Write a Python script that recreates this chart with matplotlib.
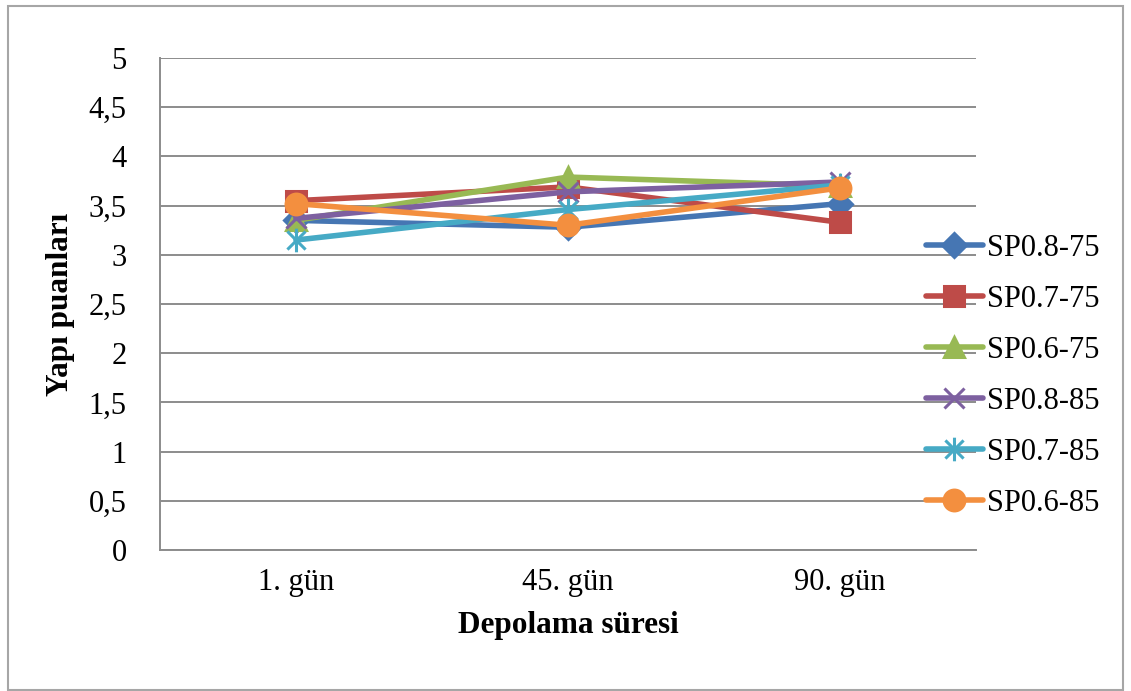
import matplotlib.pyplot as plt
import numpy as np
from matplotlib.path import Path
from matplotlib.patches import Rectangle

# Data
days = ['1. gün', '45. gün', '90. gün']
sp08_75 = [3.35, 3.28, 3.52]
sp07_75 = [3.55, 3.69, 3.33]
sp06_75 = [3.35, 3.79, 3.70]
sp08_85 = [3.37, 3.64, 3.74]
sp07_85 = [3.15, 3.46, 3.71]
sp06_85 = [3.52, 3.30, 3.68]
series_names = ['SP0.8-75', 'SP0.7-75', 'SP0.6-75', 'SP0.8-85', 'SP0.7-85', 'SP0.6-85']
y_ticks = [0, 0.5, 1, 1.5, 2, 2.5, 3, 3.5, 4, 4.5, 5]


def main():
    plt.rcParams['font.family'] = ['Liberation Serif', 'DejaVu Serif']

    # Excel style asterisk marker (x with a vertical stroke)
    star = Path([(-1, -1), (1, 1), (-1, 1), (1, -1), (0, -1.3), (0, 1.3)],
                [Path.MOVETO, Path.LINETO, Path.MOVETO, Path.LINETO, Path.MOVETO, Path.LINETO])

    colors = ['#4676B3', '#BE4B48', '#98B954', '#7D60A0', '#46AAC5', '#F38F3F']
    markers = ['D', 's', '^', 'x', star, 'o']
    sizes = [12, 14, 14, 14, 17, 15]
    data = [sp08_75, sp07_75, sp06_75, sp08_85, sp07_85, sp06_85]

    fig = plt.figure(figsize=(11.31, 6.91), dpi=100)
    ax = fig.add_axes([160 / 1131, 1 - 550 / 691, 816 / 1131, 492 / 691])

    x = np.arange(len(days))
    for values, name, c, m, s in zip(data, series_names, colors, markers, sizes):
        ax.plot(x, values, color=c, lw=4.0, marker=m, markersize=s,
                markeredgewidth=2.2, solid_capstyle='round', label=name)

    ax.set_xlim(-0.5, 2.5)
    ax.set_ylim(0, 5)
    ax.set_xticks(x)
    ax.set_xticklabels(days)
    ax.set_yticks(y_ticks)
    ax.set_yticklabels([('%g' % v).replace('.', ',') for v in y_ticks])
    ax.tick_params(length=0, labelsize=22, pad=13)
    ax.tick_params(axis='y', pad=24)
    ax.yaxis.grid(True, color='#8C8C8C', lw=1.4)
    ax.set_axisbelow(True)
    for side in ['top', 'right']:
        ax.spines[side].set_visible(False)
    for side in ['left', 'bottom']:
        ax.spines[side].set_color('#8C8C8C')
        ax.spines[side].set_linewidth(1.4)

    ax.set_xlabel('Depolama süresi', fontsize=22.5, fontweight='bold', labelpad=10)
    ax.set_ylabel('Yapı puanları', fontsize=22.5, fontweight='bold', labelpad=10)

    fig.legend(loc='center left', bbox_to_anchor=(926 / 1131, 1 - 376 / 691),
               frameon=False, fontsize=22, handlelength=1.85, handletextpad=0.15,
               labelspacing=0.72, borderpad=0, borderaxespad=0)

    fig.patches.append(Rectangle((8 / 1131, 1 / 691), 1115 / 1131, 684 / 691,
                                 transform=fig.transFigure, fill=False,
                                 edgecolor='#A6A6A6', lw=1.5))

    fig.savefig('out.png', dpi=100)


if __name__ == "__main__":
    main()
